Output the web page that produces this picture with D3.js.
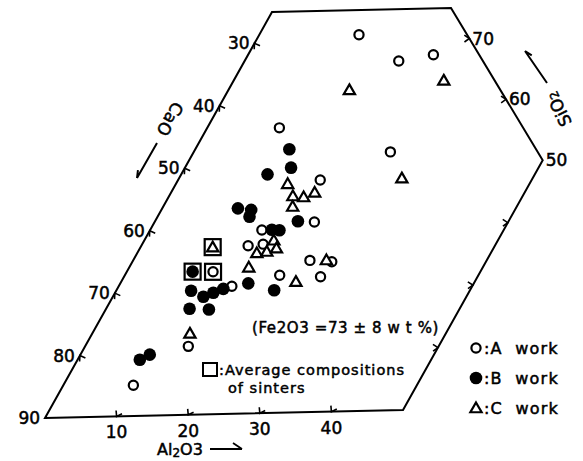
<!DOCTYPE html>
<html>
<head>
<meta charset="utf-8">
<script src="https://cdn.jsdelivr.net/npm/d3@7"></script>
<style>
  body { margin: 0; background: #fff; }
  svg { display: block; }
  text { font-family: "DejaVu Sans", sans-serif; fill: #000; }
</style>
</head>
<body>
<svg id="chart" width="583" height="461"></svg>
<script>
// compositions, [Al2O3, SiO2] in wt% (CaO is the rest)
const aWork = [
  [14.1, 71.0], [21.8, 66.6], [26.2, 67.5], [27.8, 51.9], [10.2, 56.2],
  [20.1, 47.6], [22.6, 40.8], [15.8, 39.7], [15.1, 37.2], [17.1, 37.4],
  [25.0, 34.6], [28.2, 34.3], [21.9, 32.3], [27.8, 31.9], [16.0, 30.7],
  [14.6, 21.1], [9.9, 15.0]
];
const bWork = [
  [13.3, 52.7], [15.0, 49.7], [12.2, 48.7], [20.2, 41.0], [10.7, 43.3],
  [12.7, 43.0], [13.0, 41.9], [17.2, 39.7], [18.3, 39.6], [18.1, 31.1],
  [22.3, 29.9], [10.6, 30.1], [12.8, 29.1], [13.9, 29.7], [15.0, 30.3],
  [11.8, 27.2], [14.6, 27.0], [8.8, 19.1], [9.8, 19.9]
];
const cWork = [
  [17.1, 62.1], [29.7, 63.3], [31.5, 47.6], [15.8, 47.1], [17.5, 45.1],
  [19.1, 44.9], [20.3, 45.6], [18.3, 43.4], [18.3, 38.0], [16.9, 36.0],
  [18.2, 36.2], [19.3, 36.7], [16.9, 33.7], [24.7, 31.2], [27.3, 34.6],
  [13.8, 23.2]
];
// average compositions of sinters: [Al2O3, SiO2, work]
const sinters = [
  [9.3, 33.2, 'B'], [12.2, 33.1, 'A'], [10.2, 37.1, 'C']
];

// outline of the diagram, [Al2O3, SiO2]
const frame = [[0, 10], [50, 10], [50, 50], [25, 75], [0, 75]];

const caoTicks = [30, 40, 50, 60, 70, 80];
const alTicks = [10, 20, 30, 40];
const siTicks = [60, 70];
const siSideTicks = [20, 30, 40];

const svg = d3.select('#chart');

// affine ternary projection (the scan is slightly skewed)
const ORIGIN = [10.1, 480.5];
const alX = d3.scaleLinear().domain([0, 100]).range([0, 716]);
const alY = d3.scaleLinear().domain([0, 100]).range([0, -16]);
const siX = d3.scaleLinear().domain([0, 100]).range([0, 349.2]);
const siY = d3.scaleLinear().domain([0, 100]).range([0, -624.6]);
const project = (al, si) => [ORIGIN[0] + alX(al) + siX(si), ORIGIN[1] + alY(al) + siY(si)];

// unit directions of the grid lines
function dir(dAl, dSi) {
  const v = [alX(dAl) + siX(dSi), alY(dAl) + siY(dSi)];
  const len = Math.hypot(v[0], v[1]);
  return [v[0] / len, v[1] / len];
}
const alongCaO = dir(1, -1);   // constant CaO, into the plot from the left edge
const alongAl = dir(0, 1);     // constant Al2O3, up from the bottom edge
const alongSi = dir(-1, 0);    // constant SiO2, inward from the right edges

svg.append('path')
  .attr('d', d3.line()(frame.map(d => project(d[0], d[1]))) + 'Z')
  .attr('fill', 'none')
  .attr('stroke', '#000')
  .attr('stroke-width', 2)
  .attr('stroke-linejoin', 'miter');

// small arrow-head tick marks
function tick(p, d) {
  const len = 6, ang = 0.6;
  const rot = (a) => [d[0] * Math.cos(a) - d[1] * Math.sin(a), d[0] * Math.sin(a) + d[1] * Math.cos(a)];
  const r1 = rot(ang), r2 = rot(-ang);
  svg.append('path')
    .attr('d', `M${p[0] + r1[0] * len},${p[1] + r1[1] * len}L${p[0]},${p[1]}L${p[0] + r2[0] * len},${p[1] + r2[1] * len}`)
    .attr('fill', 'none')
    .attr('stroke', '#000')
    .attr('stroke-width', 1.6);
}

const labelFont = 17;
// scanned print is heavy, thicken the glyphs a little
const heavy = sel => sel.attr('stroke', '#000').attr('stroke-width', 0.5);

// CaO on the left edge
caoTicks.forEach(c => {
  const p = project(0, 100 - c);
  tick(p, alongCaO);
  svg.append('text')
    .attr('x', p[0] - 5).attr('y', p[1]).attr('dy', '0.36em')
    .attr('text-anchor', 'end')
    .attr('font-size', labelFont)
    .call(heavy)
    .text(c);
});
const p90 = project(0, 10);
svg.append('text')
  .attr('x', p90[0] - 5).attr('y', p90[1]).attr('dy', '0.36em')
  .attr('text-anchor', 'end').attr('font-size', labelFont).call(heavy).text(90);

// Al2O3 on the bottom edge
alTicks.forEach(a => {
  const p = project(a, 10);
  tick(p, alongAl);
  svg.append('text')
    .attr('x', p[0]).attr('y', p[1] + 22)
    .attr('text-anchor', 'middle')
    .attr('font-size', labelFont)
    .call(heavy)
    .text(a);
});

// SiO2 on the upper right edge
siTicks.forEach(s => {
  const p = project(100 - s, s);
  tick(p, alongSi);
  svg.append('text')
    .attr('x', p[0] + 3).attr('y', p[1]).attr('dy', '0.36em')
    .attr('font-size', labelFont)
    .call(heavy)
    .text(s);
});
const p50 = project(50, 50);
svg.append('text')
  .attr('x', p50[0] + 3).attr('y', p50[1]).attr('dy', '0.36em')
  .attr('font-size', labelFont).call(heavy).text(50);

siSideTicks.forEach(s => tick(project(50, s), alongSi));

// axis titles with arrows
function arrow(x1, y1, x2, y2) {
  const a = Math.atan2(y2 - y1, x2 - x1), h = 8;
  svg.append('path')
    .attr('d', `M${x1},${y1}L${x2},${y2}M${x2 - h * Math.cos(a - 0.4)},${y2 - h * Math.sin(a - 0.4)}L${x2},${y2}`)
    .attr('fill', 'none').attr('stroke', '#000').attr('stroke-width', 2);
}

svg.append('text')
  .attr('transform', 'translate(170,119) rotate(120)')
  .attr('text-anchor', 'middle').attr('dy', '0.35em')
  .attr('font-size', 17)
  .call(heavy)
  .text('CaO');
arrow(157, 143, 137, 178);

const si = svg.append('text')
  .attr('transform', 'translate(559,109) rotate(-116)')
  .attr('text-anchor', 'middle').attr('dy', '0.35em')
  .attr('font-size', 17)
  .call(heavy);
si.append('tspan').text('SiO');
si.append('tspan').attr('font-size', 12).text('2');
arrow(547, 83, 525, 51);

const al = svg.append('text')
  .attr('x', 157).attr('y', 455)
  .attr('font-size', 16)
  .call(heavy);
al.append('tspan').text('Al');
al.append('tspan').attr('font-size', 12).attr('dy', 2).text('2');
al.append('tspan').attr('dy', -2).text('O3');
svg.append('path')
  .attr('d', 'M210,449 L242,449 M233,443 L242,449')
  .attr('fill', 'none').attr('stroke', '#000').attr('stroke-width', 1.8);

// marks
const R = 4.6;
const tri = d3.symbol().type(d3.symbolTriangle).size(55);

function openCircle(g, p) {
  g.append('circle').attr('cx', p[0]).attr('cy', p[1]).attr('r', R)
    .attr('fill', '#fff').attr('stroke', '#000').attr('stroke-width', 2.2);
}
function filledCircle(g, p) {
  g.append('circle').attr('cx', p[0]).attr('cy', p[1]).attr('r', 6.3).attr('fill', '#000');
}
function triangle(g, p) {
  g.append('path').attr('d', tri).attr('transform', `translate(${p[0]},${p[1] + 1})`)
    .attr('fill', '#fff').attr('stroke', '#000').attr('stroke-width', 2.2);
}

const marks = svg.append('g');
aWork.forEach(d => openCircle(marks, project(d[0], d[1])));
bWork.forEach(d => filledCircle(marks, project(d[0], d[1])));
cWork.forEach(d => triangle(marks, project(d[0], d[1])));

sinters.forEach(d => {
  const p = project(d[0], d[1]);
  marks.append('rect').attr('x', p[0] - 8).attr('y', p[1] - 8).attr('width', 16).attr('height', 16)
    .attr('fill', '#fff').attr('stroke', '#000').attr('stroke-width', 2.2);
  if (d[2] === 'A') openCircle(marks, p);
  else if (d[2] === 'B') filledCircle(marks, p);
  else triangle(marks, p);
});

// notes
svg.append('text')
  .attr('x', 252).attr('y', 333)
  .attr('font-size', 15).attr('letter-spacing', 0.6)
  .call(heavy)
  .text('(Fe2O3 =73 ± 8 w t %)');

svg.append('rect').attr('x', 203).attr('y', 363).attr('width', 14).attr('height', 13)
  .attr('fill', 'none').attr('stroke', '#000').attr('stroke-width', 2);
svg.append('text')
  .attr('x', 219).attr('y', 375)
  .attr('font-size', 14.5).attr('letter-spacing', 1)
  .call(heavy)
  .text(':Average compositions');
svg.append('text')
  .attr('x', 228).attr('y', 393)
  .attr('font-size', 14.5).attr('letter-spacing', 1)
  .call(heavy)
  .text('of sinters');

// legend
const legendRows = [
  {label: 'A work', draw: openCircle},
  {label: 'B work', draw: filledCircle},
  {label: 'C work', draw: triangle}
];
legendRows.forEach((row, i) => {
  const y = 348 + i * 30;
  row.draw(svg, [476, y]);
  svg.append('text')
    .attr('x', 484).attr('y', y).attr('dy', '0.36em')
    .attr('font-size', 16).attr('letter-spacing', 1.2)
    .attr('xml:space', 'preserve')
    .call(heavy)
    .text(':' + row.label.replace(' ', '  '));
});
</script>
</body>
</html>
